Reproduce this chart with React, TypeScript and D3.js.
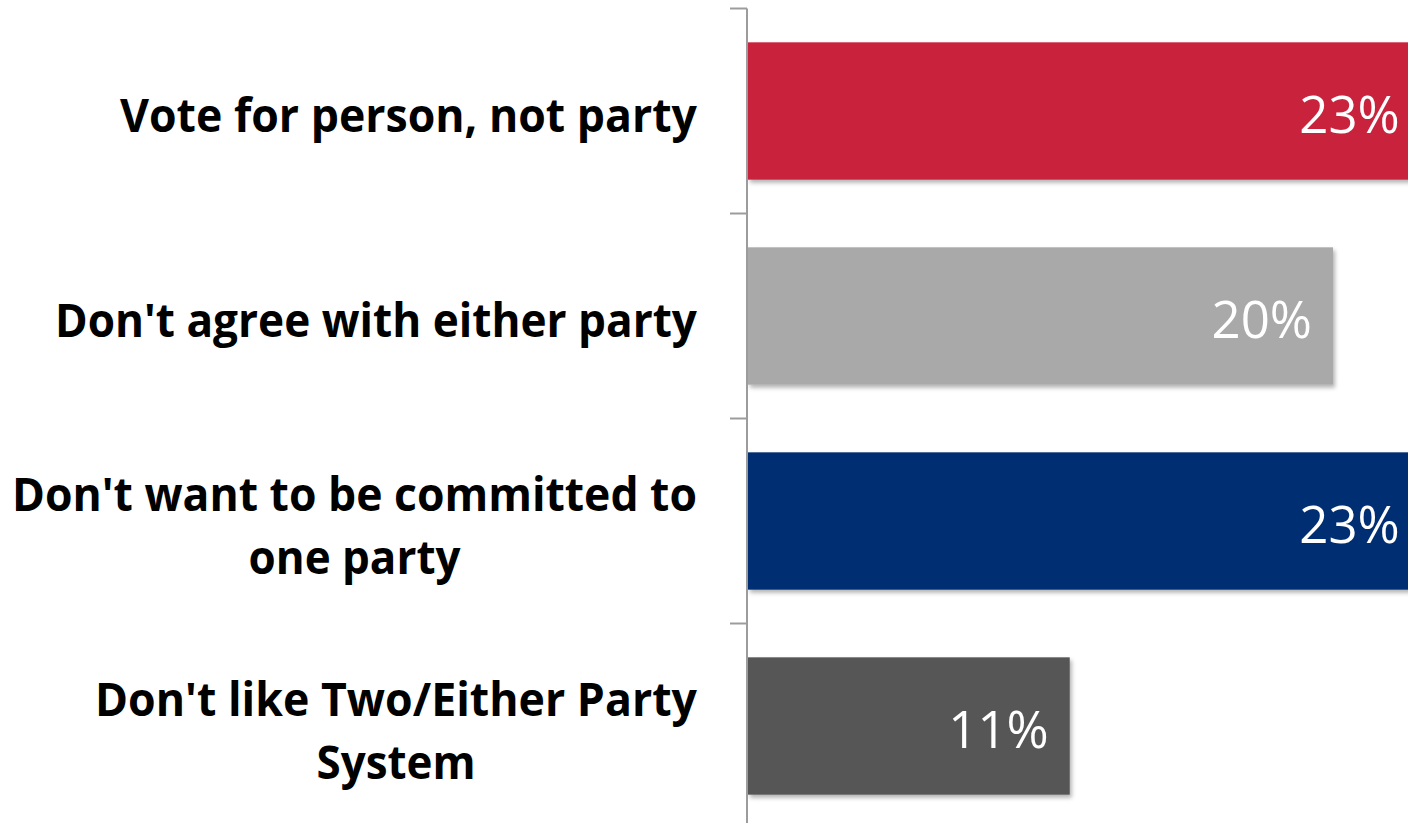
import React from "react";
import * as d3 from "d3";

const categories: string[][] = [
  ["Vote for person, not party"],
  ["Don't agree with either party"],
  ["Don't want to be committed to", "one party"],
  ["Don't like Two/Either Party", "System"],
];
const values: number[] = [23, 20, 23, 11];
const colors: string[] = ["#C9223D", "#A9A9A9", "#002F72", "#575757"];
// measured pixel widths of each label line (Calibri-like rendering)
const labelWidths: number[][] = [[577], [642], [685, 212], [602, 159]];

const W = 1408;
const H = 823;
const AXIS_X = 747;

export default function App() {
  const keys = categories.map((c) => c.join(" "));
  const y = d3.scaleBand<string>().domain(keys).range([8.5, 828.5]).paddingInner(0.33).paddingOuter(0.165);
  const x = d3.scaleLinear().domain([0, 20]).range([748, 1333]);
  const step = y.step();
  const r0 = y.range()[0];
  const ticks = d3.range(keys.length + 1).map((i) => r0 + i * step);
  const labelCenterX = 697;

  return (
    <svg width={W} height={H} style={{ position: "absolute", left: 0, top: 0, background: "#fff" }}>
      <defs>
        <filter id="sh" x="-5%" y="-10%" width="115%" height="130%">
          <feDropShadow dx="2" dy="3" stdDeviation="2" floodColor="#000" floodOpacity="0.3" />
        </filter>
        <clipPath id="clip">
          <rect x={0} y={0} width={W} height={H} />
        </clipPath>
      </defs>
      <g clipPath="url(#clip)">
        {keys.map((k, i) => (
          <rect
            key={k}
            x={x(0)}
            y={y(k)}
            width={x(values[i]) - x(0)}
            height={y.bandwidth()}
            fill={colors[i]}
            filter="url(#sh)"
          />
        ))}
        {keys.map((k, i) => (
          <text
            key={"v" + k}
            x={x(values[i]) - 21}
            y={(y(k) as number) + y.bandwidth() / 2 + 22}
            textAnchor="end"
            fill="#fff"
            fontFamily="'Open Sans', sans-serif"
            fontSize={51}
          >
            {values[i]}%
          </text>
        ))}
        <line x1={AXIS_X} x2={AXIS_X} y1={ticks[0]} y2={H + 10} stroke="#9C9C9C" strokeWidth={2} />
        {ticks.map((t, i) => (
          <line key={"t" + i} x1={730} x2={AXIS_X} y1={t} y2={t} stroke="#9C9C9C" strokeWidth={2} />
        ))}
        {keys.map((k, i) => {
          const lines = categories[i];
          const cy = (y(k) as number) + y.bandwidth() / 2;
          const lh = 63;
          const blockW = Math.max(...labelWidths[i]);
          const cx = labelCenterX - blockW / 2;
          return lines.map((ln, j) => {
            const off = (j - (lines.length - 1) / 2) * lh;
            return (
              <text
                key={k + j}
                x={cx}
                y={cy + off + 21}
                textAnchor="middle"
                fontFamily="'Open Sans', sans-serif"
                fontWeight={700}
                fontSize={47}
                fill="#000"
                textLength={labelWidths[i][j]}
                lengthAdjust="spacingAndGlyphs"
              >
                {ln}
              </text>
            );
          });
        })}
      </g>
    </svg>
  );
}
